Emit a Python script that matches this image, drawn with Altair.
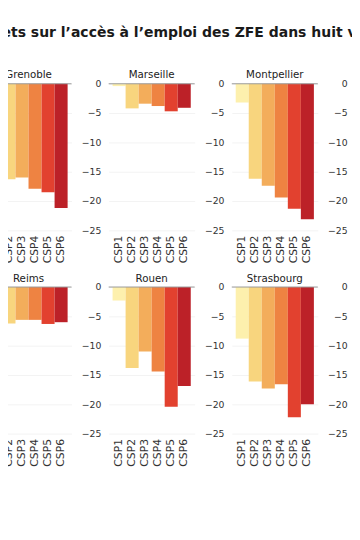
import altair as alt
import pandas as pd

title = "Effets sur l’accès à l’emploi des ZFE dans huit villes"
csp = ["CSP1", "CSP2", "CSP3", "CSP4", "CSP5", "CSP6"]
cities = ["Grenoble", "Marseille", "Montpellier", "Nice",
          "Reims", "Rouen", "Strasbourg", "Toulouse"]
grenoble = [None, -16.3, -16.0, -17.9, -18.5, -21.2]
marseille = [-0.4, -4.2, -3.4, -3.8, -4.7, -4.1]
montpellier = [-3.2, -16.2, -17.4, -19.4, -21.3, -23.1]
nice = [None, None, None, None, None, None]
reims = [None, -6.2, -5.6, -5.6, -6.3, -6.0]
rouen = [-2.3, -13.8, -11.0, -14.4, -20.4, -16.9]
strasbourg = [-8.8, -16.1, -17.3, -16.6, -22.2, -20.0]
toulouse = [None, None, None, None, None, None]
y_ticks = [0, -5, -10, -15, -20, -25]
colors = ["#fdf0ad", "#f8d57e", "#f3ad5b", "#ee8342", "#e2412f", "#bc2128"]

series = [grenoble, marseille, montpellier, nice, reims, rouen, strasbourg, toulouse]


def y_axis():
    return alt.Axis(title=None, values=y_ticks, domain=False, ticks=False,
                    labelOverlap=False, labelFlush=False,
                    labelPadding=8, labelFontSize=9.5, labelColor="#333",
                    labelFont="DejaVu Sans", grid=True, gridColor="#f3f3f3")


def panel(city, vals):
    df = pd.DataFrame({"csp": csp, "val": pd.Series(vals, dtype="float")})
    base = alt.Chart(df)
    yscale = alt.Scale(domain=[-25, 0], nice=False)
    bars = base.mark_bar().encode(
        x=alt.X("csp:N", sort=csp,
                scale=alt.Scale(domain=csp, paddingInner=0, paddingOuter=0.3),
                axis=alt.Axis(title=None, labelAngle=-90, domain=False, ticks=False,
                              labelPadding=5, labelFontSize=11, labelColor="#333",
                              labelFont="DejaVu Sans")),
        y=alt.Y("val:Q", scale=yscale, axis=y_axis()),
        color=alt.Color("csp:N", scale=alt.Scale(domain=csp, range=colors), legend=None),
    )
    rule = base.transform_filter(alt.datum.csp == "CSP1").transform_calculate(
        zero="0"
    ).mark_rule(color="#9a9a9a", strokeWidth=1).encode(
        y=alt.Y("zero:Q", scale=yscale, axis=y_axis())
    )
    return alt.layer(bars, rule).properties(
        width=88, height=150,
        title=alt.TitleParams(city, fontSize=10.5, fontWeight="normal",
                              font="DejaVu Sans", color="#222", offset=-2),
    )


panels = [panel(c, v) for c, v in zip(cities, series)]

chart = alt.concat(*panels, columns=4, spacing={"row": 58, "column": 38}, bounds="flush").properties(
    title=alt.TitleParams(title, fontSize=14.3, fontWeight="bold", font="DejaVu Sans",
                          color="#1a1a1a", anchor="start", frame="group", dx=-5, offset=31),
    padding={"left": -52, "top": 13, "right": -92, "bottom": 10},
).configure_view(stroke=None)

chart.save("out.html", embed_options={"renderer": "svg", "actions": False})
